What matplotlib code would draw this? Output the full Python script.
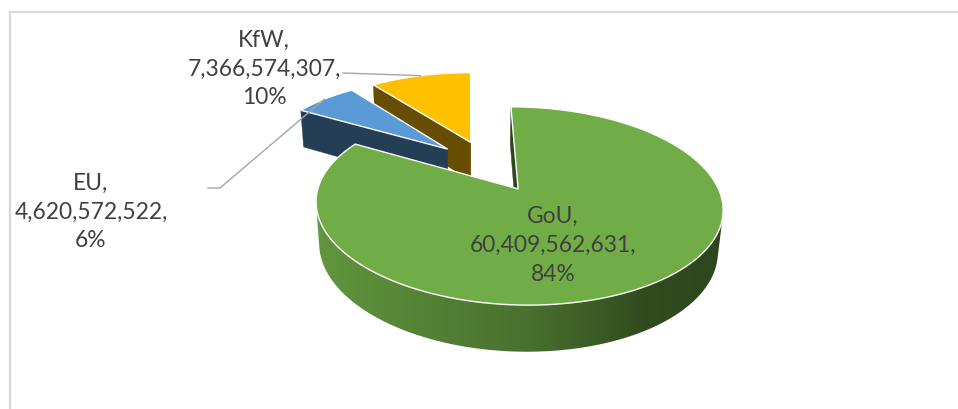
import numpy as np
import matplotlib
matplotlib.use("Agg")
import matplotlib.pyplot as plt
from matplotlib.patches import Polygon
from matplotlib.colors import to_rgb

# ---------------- data ----------------
categories = ["GoU", "EU", "KfW"]
values = [60409562631, 4620572522, 7366574307]
colors = ["#70AD47", "#5B9BD5", "#FFC000"]

vals = np.array(values, dtype=float)
fracs = vals / vals.sum()
raw = fracs * 100.0
pcts = np.floor(raw).astype(int)
for i in np.argsort(-(raw - pcts))[: 100 - pcts.sum()]:
    pcts[i] += 1          # Excel-style rounding so labels sum to 100 %

# ---------------- 3-D projection settings ----------------
SX, SY = 192.0, 196.0
ELEV = np.radians(26.8)
CE, SE = np.cos(ELEV), np.sin(ELEV)
DIST = 5.41
X0 = -0.10
CX, CY = 469.2, 166.7
DEPTH = 0.232
EXPLODE = 0.29
CAM = np.array([X0, -DIST * CE, DIST * SE])


def proj(X, Y, Z):
    X, Y, Z = np.broadcast_arrays(np.asarray(X, float), np.asarray(Y, float),
                                  np.asarray(Z, float))
    d = Y * CE - Z * SE
    sc = DIST / (DIST + d)
    return np.column_stack([CX + SX * (X - X0) * sc,
                            CY - SY * (Z * CE + Y * SE) * sc])


def facing(normal, point):
    return np.dot(normal, CAM - np.asarray(point)) > 0


def shade(c, f):
    r, g, b = to_rgb(c)
    return (r * f, g * f, b * f)


fig = plt.figure(figsize=(9.58, 4.10), dpi=100)
ax = fig.add_axes([0, 0, 1, 1])

# chart-area border
ax.plot([10, 10, 960], [412, 13, 13], color="#D9D9D9", lw=1.6,
        solid_joinstyle="miter", clip_on=False, zorder=0.5)

starts = 90.0 - 360.0 * np.concatenate([[0.0], np.cumsum(fracs)[:-1]])
ends = starts - 360.0 * fracs
mids = (starts + ends) / 2.0

offsets = [(EXPLODE * np.cos(np.radians(m)), EXPLODE * np.sin(np.radians(m)))
           for m in mids]

WALL_U = [0, 0.25, 0.5, 0.75, 1.0]
WALL_F = [0.88, 0.77, 0.65, 0.44, 0.40]

z = 1.0
order = sorted(range(len(values)), key=lambda i: -offsets[i][1])
for i in order:
    ox, oy = offsets[i]
    a0, a1 = np.radians(starts[i]), np.radians(ends[i])
    n = max(int(abs(starts[i] - ends[i]) * 2) + 2, 4)
    t = np.linspace(a0, a1, n)
    col = colors[i]
    # radial faces
    for a, nrm in ((a0, (-np.sin(a0), np.cos(a0), 0.0)),
                   (a1, (np.sin(a1), -np.cos(a1), 0.0))):
        ctr = (ox + 0.5 * np.cos(a), oy + 0.5 * np.sin(a), -DEPTH / 2)
        if facing(np.array(nrm), ctr):
            pts = proj([ox, ox + np.cos(a), ox + np.cos(a), ox],
                       [oy, oy + np.sin(a), oy + np.sin(a), oy],
                       [0, 0, -DEPTH, -DEPTH])
            ax.add_patch(Polygon(pts, closed=True, facecolor=shade(col, 0.40),
                                 edgecolor=shade(col, 0.40), lw=0.3, zorder=z))
            z += 0.01
    # outer wall (visible part) filled with a horizontal shading gradient
    tm = 0.5 * (t[:-1] + t[1:])
    vis = [j for j in range(n - 1)
           if facing(np.array([np.cos(tm[j]), np.sin(tm[j]), 0.0]),
                     (ox + np.cos(tm[j]), oy + np.sin(tm[j]), -DEPTH / 2))]
    if vis:
        tv = t[min(vis): max(vis) + 2]
        topr = proj(ox + np.cos(tv), oy + np.sin(tv), 0.0)
        botr = proj(ox + np.cos(tv), oy + np.sin(tv), -DEPTH)
        wall = np.vstack([topr, botr[::-1]])
        poly = Polygon(wall, closed=True, facecolor="none", edgecolor="none")
        ax.add_patch(poly)
        xmn, xmx = wall[:, 0].min(), wall[:, 0].max()
        ymn, ymx = wall[:, 1].min(), wall[:, 1].max()
        # gradient keyed to world angle of the rim (left bright -> right dark)
        xs_full = proj(ox + np.cos(np.linspace(np.pi, 2 * np.pi, 400)),
                       oy + np.sin(np.linspace(np.pi, 2 * np.pi, 400)), -DEPTH / 2)[:, 0]
        u_full = (1 + np.cos(np.linspace(np.pi, 2 * np.pi, 400))) / 2
        gx = np.linspace(xmn, xmx, 512)
        u = np.interp(gx, xs_full, u_full)
        f = np.interp(u, WALL_U, WALL_F)
        base = np.array(to_rgb(col))
        img = (f[:, None] * base[None, :])[None, :, :]
        im = ax.imshow(img, extent=(xmn, xmx, ymx + 1, ymn - 1), aspect="auto",
                       interpolation="bilinear", zorder=z)
        im.set_clip_path(poly)
        z += 0.01
    # top face
    top = proj(np.concatenate([[ox], ox + np.cos(t)]),
               np.concatenate([[oy], oy + np.sin(t)]), 0.0)
    ax.add_patch(Polygon(top, closed=True, facecolor=col, edgecolor="white",
                         lw=1.0, joinstyle="miter", zorder=z))
    z += 0.01

ax.set_xlim(0, 958)
ax.set_ylim(410, 0)
ax.axis("off")

# ---------------- labels ----------------
label_x = [553, 91, 264]
label_baseline = [252, 218.5, 75.5]
LINE_STEP = 29
TEXT_COLOR = "#404040"
for i, cat in enumerate(categories):
    lines = [f"{cat},", f"{values[i]:,},", f"{pcts[i]}%"]
    for k, s in enumerate(lines):
        ax.text(label_x[i], label_baseline[i] + (k - 1) * LINE_STEP, s,
                ha="center", va="baseline", fontsize=16.4, color=TEXT_COLOR,
                family=["Lato", "DejaVu Sans"], zorder=10)

# leader lines (label side fixed, slice side at rim midpoint)
leader_start = {1: [(208, 189), (220, 189)], 2: [(343, 74)]}
for i, pts in leader_start.items():
    ox, oy = offsets[i]
    m = np.radians(mids[i])
    anchor = proj(ox + np.cos(m), oy + np.sin(m), 0.0)[0]
    xs = [p[0] for p in pts] + [anchor[0]]
    ys = [p[1] for p in pts] + [anchor[1]]
    ax.plot(xs, ys, color="#A6A6A6", lw=1.0, zorder=11)

fig.savefig("out.png", dpi=100)
